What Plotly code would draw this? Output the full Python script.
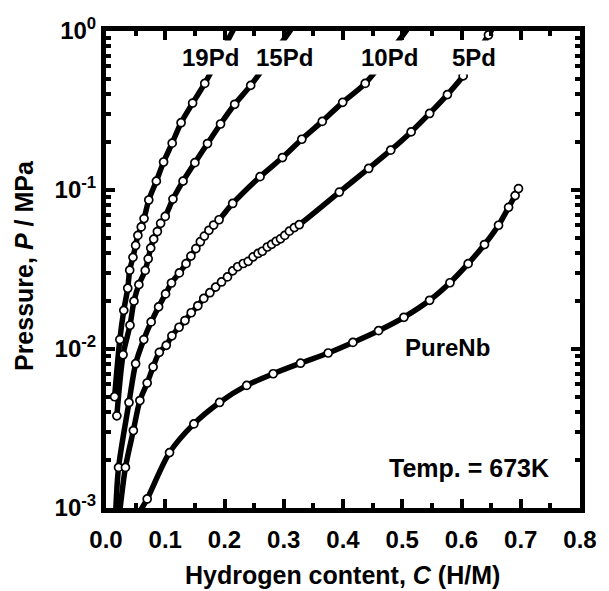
import plotly.graph_objects as go

# ---------------- data ----------------
C_19Pd = [0.0145, 0.0233, 0.030, 0.0367, 0.040, 0.0455, 0.050, 0.0538, 0.0595, 0.0642,
          0.0722, 0.085, 0.0972, 0.1117, 0.1267, 0.1462, 0.1667]
P_19Pd = [0.00501, 0.01146, 0.0175, 0.0241, 0.0313, 0.0377, 0.0448, 0.0518, 0.0586, 0.0661,
          0.0865, 0.1137, 0.150, 0.197, 0.265, 0.352, 0.468]

C_15Pd = [0.0183, 0.0288, 0.0405, 0.0472, 0.0555, 0.0662, 0.0712, 0.0755, 0.0805, 0.0867,
          0.0922, 0.100, 0.113, 0.130, 0.150, 0.1713, 0.1933, 0.2172, 0.2442]
P_15Pd = [0.0038, 0.0092, 0.0141, 0.0200, 0.0254, 0.0312, 0.0369, 0.0431, 0.0491, 0.0548,
          0.0617, 0.0682, 0.0877, 0.1137, 0.1486, 0.196, 0.260, 0.346, 0.455]

C_10Pd = [0.0212, 0.0388, 0.050, 0.0638, 0.0762, 0.0888, 0.1005, 0.1105, 0.1238, 0.135,
          0.1433, 0.1517, 0.1592, 0.166, 0.1737, 0.1817, 0.1908, 0.2138, 0.260, 0.2978,
          0.3305, 0.365, 0.3995, 0.4375]
P_10Pd = [0.0018, 0.00461, 0.00808, 0.01146, 0.0148, 0.0184, 0.0222, 0.0260, 0.0301, 0.0344,
          0.0384, 0.0428, 0.0473, 0.0513, 0.0558, 0.0602, 0.0650, 0.0823, 0.1213, 0.160,
          0.2085, 0.270, 0.356, 0.468]

C_5Pd = [0.0328, 0.0462, 0.0572, 0.0695, 0.0795, 0.090, 0.1017, 0.1112, 0.1233, 0.1333,
         0.1438, 0.155, 0.165, 0.1753, 0.185, 0.195, 0.205, 0.2138, 0.2222, 0.2317,
         0.240, 0.2483, 0.2567, 0.2638, 0.2722, 0.2795, 0.2872, 0.2945, 0.3017, 0.3095,
         0.3178, 0.3262, 0.3938, 0.4433, 0.4805, 0.515, 0.5462, 0.5762, 0.6028, 0.6455]
P_5Pd = [0.0018, 0.00307, 0.00474, 0.00611, 0.00771, 0.00953, 0.01054, 0.0121, 0.0137, 0.0151,
         0.0169, 0.0187, 0.0208, 0.0226, 0.0245, 0.0264, 0.0284, 0.0310, 0.0329, 0.0345,
         0.0356, 0.0380, 0.0399, 0.0412, 0.0438, 0.0455, 0.0476, 0.0493, 0.0518, 0.0551,
         0.0580, 0.0605, 0.0970, 0.1366, 0.178, 0.232, 0.303, 0.398, 0.522, 0.944]

C_PureNb = [0.0695, 0.1072, 0.1483, 0.1917, 0.2375, 0.2822, 0.3283, 0.375, 0.4167, 0.46,
            0.5028, 0.5462, 0.5805, 0.6112, 0.6388, 0.6625, 0.6795, 0.6905, 0.6962]
P_PureNb = [0.00114, 0.00223, 0.00338, 0.00461, 0.00590, 0.00699, 0.00814, 0.00944, 0.0110,
            0.01304, 0.01583, 0.02025, 0.0261, 0.0344, 0.0454, 0.0600, 0.0778, 0.0922, 0.1021]

# fitted-curve end points (where the drawn curves leave the frame)
fit_lo = {"19Pd": None, "15Pd": None, "10Pd": (0.0165, 0.00097),
          "5Pd": (0.0235, 0.00097), "PureNb": (0.057, 0.00095)}
fit_hi = {"19Pd": (0.215, 1.02), "15Pd": (0.312, 1.02), "10Pd": (0.508, 1.02),
          "5Pd": (0.652, 1.03), "PureNb": None}

series = [("19Pd", C_19Pd, P_19Pd), ("15Pd", C_15Pd, P_15Pd), ("10Pd", C_10Pd, P_10Pd),
          ("5Pd", C_5Pd, P_5Pd), ("PureNb", C_PureNb, P_PureNb)]

y_tickvals = [0.001, 0.01, 0.1, 1]
y_ticktext = ["10<sup>-3</sup>", "10<sup>-2</sup>", "10<sup>-1</sup>", "10<sup>0</sup>"]
y_minor = [k * 10.0 ** e for e in (-3, -2, -1) for k in range(2, 10)]

curve_labels = [("19Pd", 212, 58), ("15Pd", 287, 58), ("10Pd", 393, 58), ("5Pd", 479, 58)]
text_labels = [("PureNb", 452, 347, 24), ("Temp. = 673K", 474, 468, 25)]

# ---------------- figure ----------------
FONT = "Liberation Sans, Arial, sans-serif"
L, R, T, B = 106, 586, 31, 508
W, H = 609, 591

fig = go.Figure()
for name, cx, py in series:
    lx, ly = list(cx), list(py)
    if fit_lo[name]:
        lx = [fit_lo[name][0]] + lx
        ly = [fit_lo[name][1]] + ly
    if fit_hi[name]:
        lx = lx + [fit_hi[name][0]]
        ly = ly + [fit_hi[name][1]]
    fig.add_trace(go.Scatter(x=lx, y=ly, mode="lines",
                             line=dict(color="black", width=5.5, shape="spline", smoothing=0.8),
                             hoverinfo="skip", showlegend=False))
for name, cx, py in series:
    fig.add_trace(go.Scatter(x=cx, y=py, mode="markers", name=name,
                             marker=dict(symbol="circle", size=8, color="white",
                                         line=dict(color="black", width=1.7)),
                             showlegend=False))

def px2paper(px, py):
    return (px - L) / (R - L), (B - py) / (B - T)

for txt, px, py in curve_labels:
    xp, yp = px2paper(px, py)
    fig.add_annotation(x=xp, y=yp, xref="paper", yref="paper", text=txt, showarrow=False,
                       xanchor="center", yanchor="middle",
                       font=dict(family=FONT, size=24, color="black", weight="bold"),
                       bgcolor="white", borderpad=3)
for txt, px, py, fs in text_labels:
    xp, yp = px2paper(px, py)
    fig.add_annotation(x=xp, y=yp, xref="paper", yref="paper", text=txt, showarrow=False,
                       xanchor="center", yanchor="middle",
                       font=dict(family=FONT, size=fs, color="black", weight="bold"))

xp, yp = px2paper(345, 575)
fig.add_annotation(x=xp, y=yp, xref="paper", yref="paper",
                   text="Hydrogen content, <i>C</i> (H/M)", showarrow=False,
                   xanchor="center", yanchor="middle",
                   font=dict(family=FONT, size=25, color="black", weight="bold"))
xp, yp = px2paper(23, 266)
fig.add_annotation(x=xp, y=yp, xref="paper", yref="paper",
                   text="Pressure, <i>P</i> / MPa", showarrow=False, textangle=-90,
                   xanchor="center", yanchor="middle",
                   font=dict(family=FONT, size=25, color="black", weight="bold"))

tickfont = dict(family=FONT, size=24, color="black", weight="bold")
fig.update_xaxes(range=[0, 0.8], dtick=0.1, tick0=0, tickformat=".1f",
                 ticks="inside", ticklen=9, tickwidth=4, tickcolor="black",
                 showline=True, linewidth=5, linecolor="black", mirror="ticks",
                 showgrid=False, zeroline=False, tickfont=tickfont,
                 ticklabelstandoff=6,
                 minor=dict(dtick=0.05, tick0=0, ticks="inside", ticklen=5, tickwidth=4,
                            tickcolor="black", showgrid=False))
fig.update_yaxes(type="log", range=[-3, 0], tickmode="array", tickvals=y_tickvals,
                 ticktext=y_ticktext, ticks="inside", ticklen=9, tickwidth=4, tickcolor="black",
                 showline=True, linewidth=5, linecolor="black", mirror="ticks",
                 showgrid=False, zeroline=False, tickfont=tickfont,
                 ticklabelstandoff=0,
                 minor=dict(tickmode="array", tickvals=y_minor, ticks="inside", ticklen=5,
                            tickwidth=4, tickcolor="black", showgrid=False))
fig.update_layout(width=W, height=H, margin=dict(l=L, r=W - R, t=T, b=H - B),
                  paper_bgcolor="white", plot_bgcolor="white")
fig.write_html("out.html")
